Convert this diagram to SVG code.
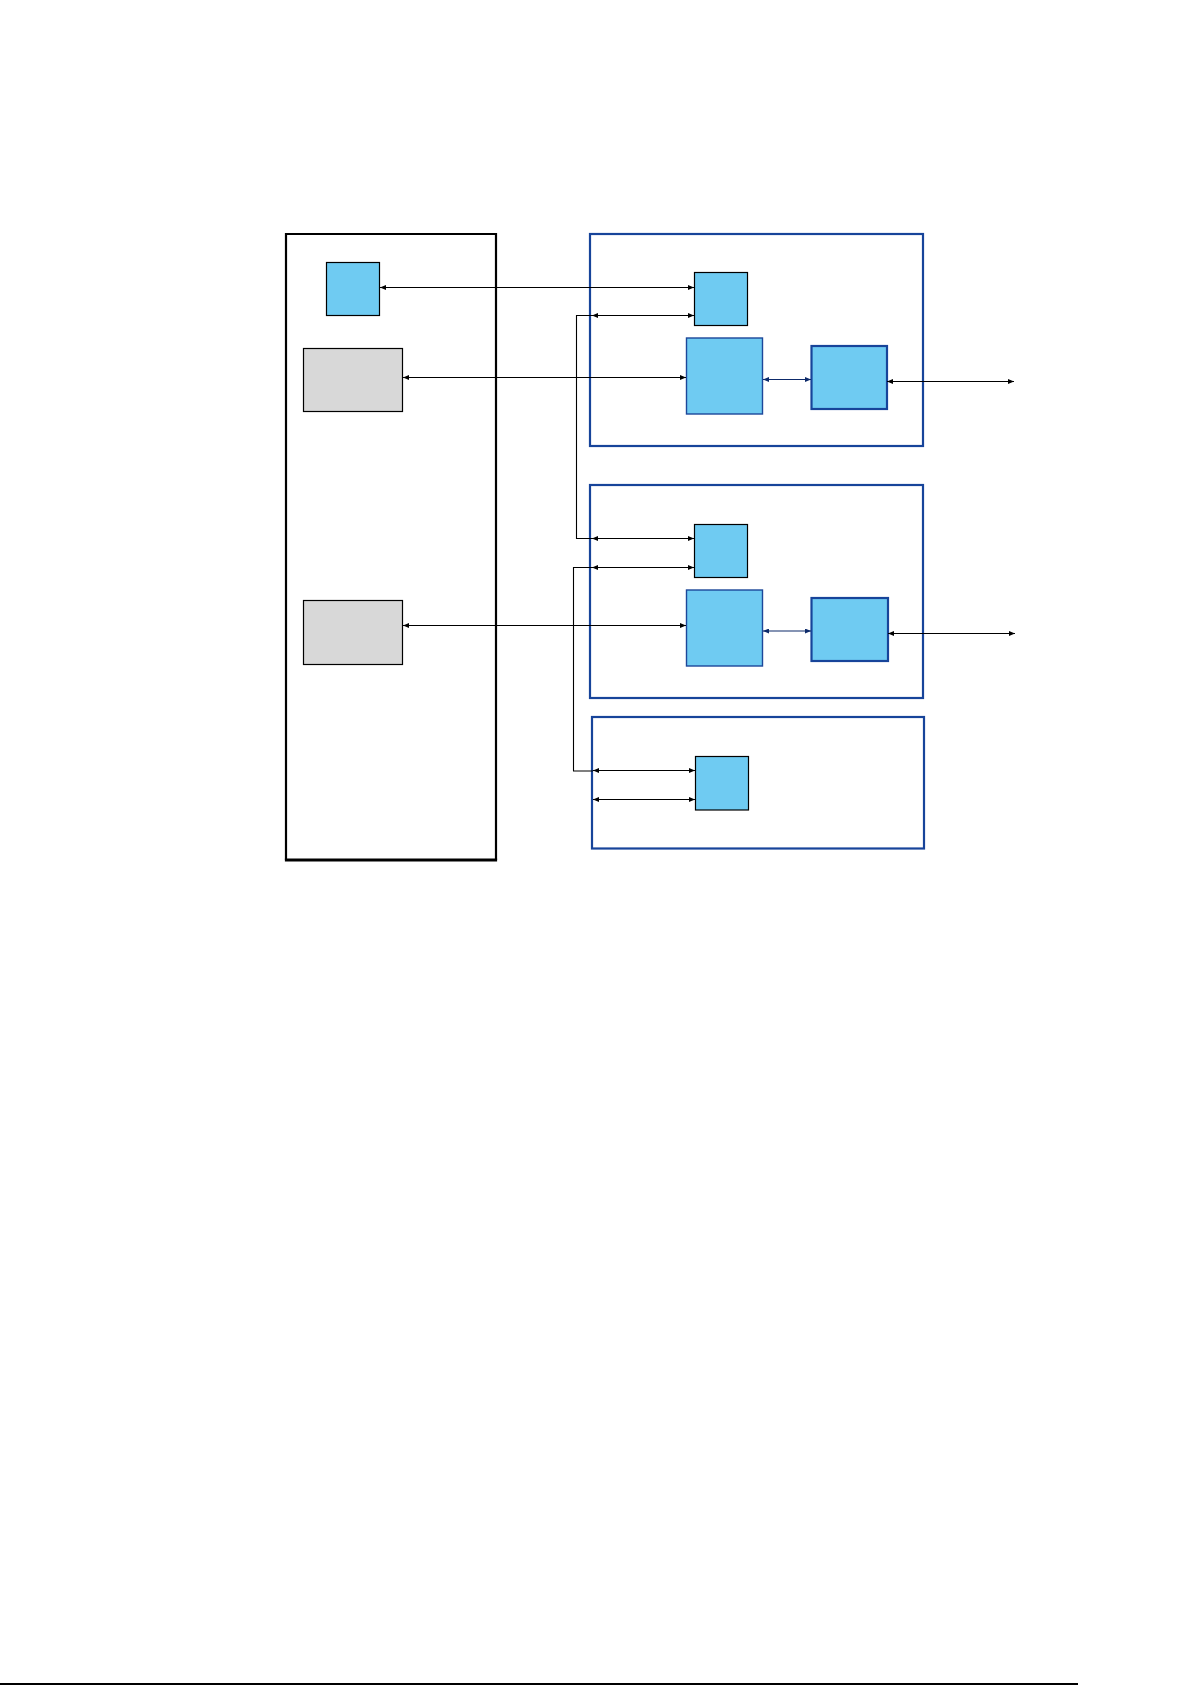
<svg xmlns="http://www.w3.org/2000/svg" width="1192" height="1685" viewBox="0 0 1192 1685">
<defs>
<style>
.cont{fill:none;stroke:#17449a;stroke-width:2.2}
.sq{fill:#6fcbf2;stroke:#000;stroke-width:1.2}
.ba{fill:#6fcbf2;stroke:#1c479a;stroke-width:1.4}
.bb{fill:#6fcbf2;stroke:#17449a;stroke-width:2.2}
.gr{fill:#d8d8d8;stroke:#000;stroke-width:1.2}
.ln{fill:none;stroke:#000;stroke-width:1.1}
.nv{fill:none;stroke:#0d2a6a;stroke-width:1.1}
</style>
<marker id="ah" markerWidth="6" markerHeight="5" refX="6" refY="2.5" orient="auto-start-reverse" markerUnits="userSpaceOnUse">
<path d="M0,0 L6,2.5 L0,5 Z" fill="#000"/>
</marker>
<marker id="an" markerWidth="6" markerHeight="5" refX="6" refY="2.5" orient="auto-start-reverse" markerUnits="userSpaceOnUse">
<path d="M0,0 L6,2.5 L0,5 Z" fill="#0d2a6a"/>
</marker>
</defs>
<rect width="1192" height="1685" fill="#fff"/>
<g id="host">
<path d="M286,860 L286,234 L496,234 L496,860" fill="none" stroke="#000" stroke-width="2.2"/>
<line x1="284.9" y1="860" x2="497.1" y2="860" stroke="#000" stroke-width="3"/>
</g>
<g id="host-sq"><rect x="326.5" y="262.5" width="53" height="53" class="sq"/></g>
<g id="host-g1"><rect x="303.5" y="348.5" width="99" height="63" class="gr"/></g>
<g id="host-g2"><rect x="303.5" y="600.5" width="99" height="64" class="gr"/></g>
<g id="c1"><rect x="590" y="234" width="333" height="212" class="cont"/></g>
<g id="c1-sq"><rect x="694.5" y="272.5" width="53" height="53" class="sq"/></g>
<g id="c1-a"><rect x="686.5" y="338" width="76" height="76" class="ba"/></g>
<g id="c1-b"><rect x="811.5" y="346" width="75.5" height="63" class="bb"/></g>
<g id="c2"><rect x="590" y="485" width="333" height="213" class="cont"/></g>
<g id="c2-sq"><rect x="694.5" y="524.5" width="53" height="53" class="sq"/></g>
<g id="c2-a"><rect x="686.5" y="590" width="76" height="76" class="ba"/></g>
<g id="c2-b"><rect x="811.5" y="598" width="76.5" height="63" class="bb"/></g>
<g id="c3"><rect x="592" y="717" width="332" height="131.5" class="cont"/></g>
<g id="c3-sq"><rect x="695.5" y="756.5" width="53" height="53.5" class="sq"/></g>
<g id="connectors">
<line x1="380" y1="287.5" x2="694" y2="287.5" class="ln" marker-start="url(#ah)" marker-end="url(#ah)"/>
<line x1="592" y1="315.5" x2="694" y2="315.5" class="ln" marker-start="url(#ah)" marker-end="url(#ah)"/>
<line x1="403" y1="377.5" x2="686" y2="377.5" class="ln" marker-start="url(#ah)" marker-end="url(#ah)"/>
<line x1="763" y1="379.5" x2="811" y2="379.5" class="nv" marker-start="url(#an)" marker-end="url(#an)"/>
<line x1="887" y1="381.5" x2="1014" y2="381.5" class="ln" marker-start="url(#ah)" marker-end="url(#ah)"/>
<polyline points="592,315.5 576.5,315.5 576.5,538.5 592,538.5" class="ln"/>
<line x1="592" y1="538.5" x2="694" y2="538.5" class="ln" marker-start="url(#ah)" marker-end="url(#ah)"/>
<line x1="592" y1="567.5" x2="694" y2="567.5" class="ln" marker-start="url(#ah)" marker-end="url(#ah)"/>
<polyline points="592,567.5 573.5,567.5 573.5,771 593,771" class="ln"/>
<line x1="403" y1="625.5" x2="686" y2="625.5" class="ln" marker-start="url(#ah)" marker-end="url(#ah)"/>
<line x1="763" y1="631" x2="811" y2="631" class="nv" marker-start="url(#an)" marker-end="url(#an)"/>
<line x1="888" y1="633.5" x2="1015" y2="633.5" class="ln" marker-start="url(#ah)" marker-end="url(#ah)"/>
<line x1="593" y1="770.5" x2="695" y2="770.5" class="ln" marker-start="url(#ah)" marker-end="url(#ah)"/>
<line x1="593" y1="799.5" x2="695" y2="799.5" class="ln" marker-start="url(#ah)" marker-end="url(#ah)"/>
</g>
<line x1="0" y1="1684" x2="1078" y2="1684" stroke="#000" stroke-width="2"/>
</svg>
